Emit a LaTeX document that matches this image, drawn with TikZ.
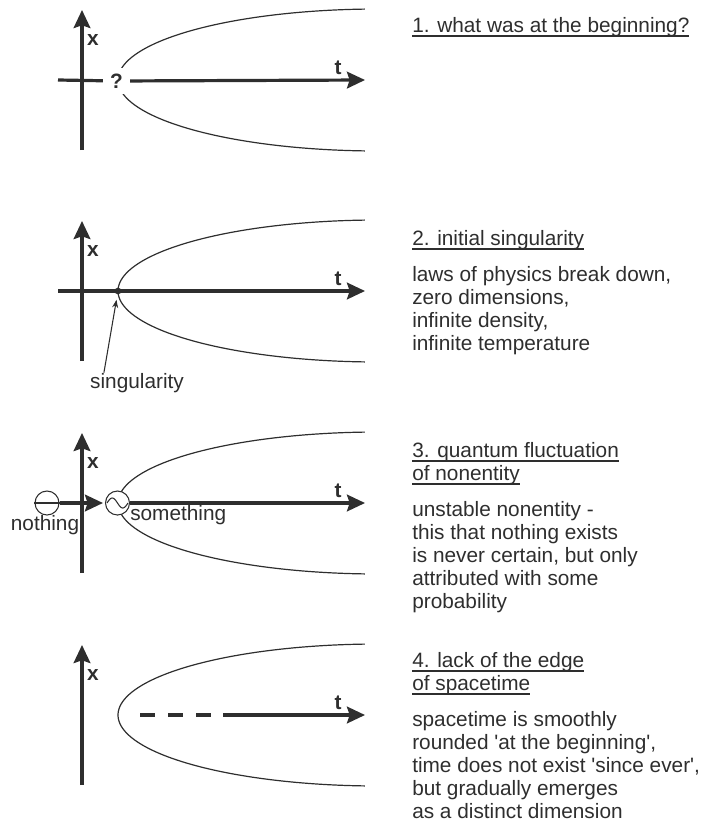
\documentclass[tikz,border=0pt]{standalone}
\usepackage{fontspec}
\setmainfont{Liberation Sans}
\usetikzlibrary{positioning,arrows.meta}

\colorlet{ink}{black!82}
\newcommand{\titleline}[1]{\setbox0\hbox{#1}\rlap{\rule[-3.4pt]{\wd0}{1.1pt}}\box0}

\begin{document}
\begin{tikzpicture}[x=0.75pt,y=-0.75pt,
  axisline/.style={line width=2.4pt, draw=ink},
  axis/.style={axisline, -{Stealth[length=13.5pt,width=12.5pt,inset=2pt]}},
  curve/.style={line width=0.9pt, draw=ink},
  thinline/.style={line width=0.8pt, draw=ink},
  pointer/.style={line width=0.8pt, draw=ink, -{Stealth[length=6pt,width=4.5pt]}},
  axlabel/.style={font=\fontsize{15.6}{17.3}\selectfont\bfseries, text=ink, inner sep=0pt},
  plain/.style={font=\fontsize{15.6}{17.3}\selectfont, text=ink, inner sep=0pt, align=left},
  qstate/.style={circle, thinline, fill=white, minimum size=18pt, inner sep=0pt},
  dot/.style={circle, fill=ink, minimum size=5pt, inner sep=0pt}]
  \useasboundingbox (0,0) rectangle (701,825);

  % axes and the rim of spacetime, one row per stage
  \foreach \ya [count=\i] in {80,291,503,715} {
    \draw[axis] (82,\ya+70) -- (82,\ya-70);
    \draw[curve] plot[domain=92.9:267.1, samples=90, smooth]
      ({378+260*cos(\x)}, {\ya-71*sin(\x)});
    \node[axlabel] (xlab\i) at (93,\ya-40) {x};
    \node[axlabel] (tlab\i) at (338,\ya-12) {t};
  }

  % 1. unknown beginning
  \node[axlabel, fill=white, minimum width=20pt, minimum height=19.5pt] (qmark) at (116.5,81) {?};
  \draw[axisline] (58,80) -- (qmark);
  \draw[axis] (qmark) -- (365,80);
  \node[plain, anchor=base west] (head1) at (412,32) {\titleline{1. what was at the beginning?}};

  % 2. initial singularity
  \draw[axis] (58,291) -- (365,291);
  \node[dot] (sing) at (118,291) {};
  \node[plain, anchor=base] (singtext) at (137,388) {singularity};
  \draw[pointer, shorten >=4pt] ([xshift=10.5pt]singtext.north west) -- (sing);
  \node[plain, anchor=north west] (head2) at (412,230) {\titleline{2. initial singularity}};
  \node[plain, below=12pt of head2.south west, anchor=north west] (text2)
    {laws of physics break down,\\zero dimensions,\\infinite density,\\infinite temperature};

  % 3. quantum fluctuation
  \node[qstate] (nothing) at (47,503) {};
  \node[qstate] (something) at (117.5,503) {};
  \draw[thinline] (nothing.west) -- (nothing.east);
  \draw[thinline] plot[domain=-1:1, samples=30, smooth] ({117.5+10.5*\x}, {503+5*sin(180*\x)});
  \draw[axis, shorten >=1.5pt] (nothing) -- (something);
  \draw[axis] (something) -- (365,503);
  \node[plain, anchor=base] (nothingtext) at (45,530) {nothing};
  \node[plain, anchor=base west] (somethingtext) at (130,520) {something};
  \node[plain, anchor=north west] (head3) at (412,442)
    {\titleline{3. quantum fluctuation}\\\titleline{of nonentity}};
  \node[plain, below=12pt of head3.south west, anchor=north west] (text3)
    {unstable nonentity -\\this that nothing exists\\is never certain, but only\\attributed with some\\probability};

  % 4. no edge of spacetime
  \draw[axisline, dash pattern=on 11.25pt off 9.75pt] (140,715) -- (211,715);
  \draw[axis] (223,715) -- (365,715);
  \node[plain, anchor=north west] (head4) at (412,652)
    {\titleline{4. lack of the edge}\\\titleline{of spacetime}};
  \node[plain, below=12pt of head4.south west, anchor=north west] (text4)
    {spacetime is smoothly\\rounded \textquotesingle at the beginning\textquotesingle,\\time does not exist \textquotesingle since ever\textquotesingle,\\but gradually emerges\\as a distinct dimension};
\end{tikzpicture}
\end{document}
